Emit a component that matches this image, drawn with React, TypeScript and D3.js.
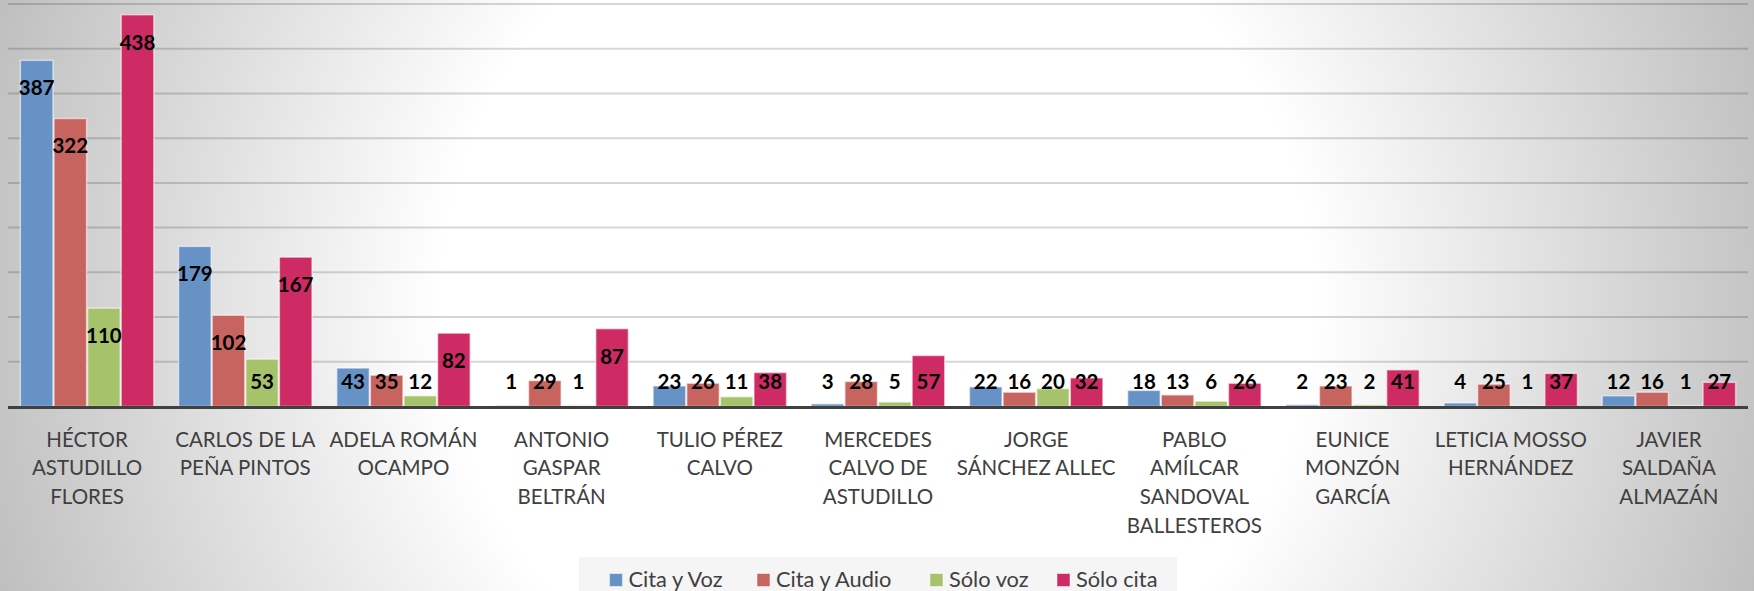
import React from "react";
import * as d3 from "d3";

const categories = [
  "HÉCTOR\nASTUDILLO\nFLORES",
  "CARLOS DE LA\nPEÑA PINTOS",
  "ADELA ROMÁN\nOCAMPO",
  "ANTONIO\nGASPAR\nBELTRÁN",
  "TULIO PÉREZ\nCALVO",
  "MERCEDES\nCALVO DE\nASTUDILLO",
  "JORGE\nSÁNCHEZ ALLEC",
  "PABLO\nAMÍLCAR\nSANDOVAL\nBALLESTEROS",
  "EUNICE\nMONZÓN\nGARCÍA",
  "LETICIA MOSSO\nHERNÁNDEZ",
  "JAVIER\nSALDAÑA\nALMAZÁN",
];

const seriesNames = ["Cita y Voz", "Cita y Audio", "Sólo voz", "Sólo cita"];
const citaYVoz = [387, 179, 43, 1, 23, 3, 22, 18, 2, 4, 12];
const citaYAudio = [322, 102, 35, 29, 26, 28, 16, 13, 23, 25, 16];
const soloVoz = [110, 53, 12, 1, 11, 5, 20, 6, 2, 1, 1];
const soloCita = [438, 167, 82, 87, 38, 57, 32, 26, 41, 37, 27];
const yTicks = [0, 50, 100, 150, 200, 250, 300, 350, 400, 450];

const seriesValues = [citaYVoz, citaYAudio, soloVoz, soloCita];
const colors = ["#6792C6", "#C8645F", "#A6C36C", "#CE2A64"];

const W = 1754;
const H = 591;
const plotLeft = 8;
const plotRight = 1748;
const plotTop = 4;
const baseY = 406.5;
const FONT = "Lato, 'Open Sans', sans-serif";

export default function App() {
  const x0 = d3
    .scaleBand<string>()
    .domain(categories)
    .range([plotLeft, plotRight])
    .paddingInner(0.15)
    .paddingOuter(0.075);
  const x1 = d3
    .scaleBand<string>()
    .domain(seriesNames)
    .range([0, x0.bandwidth()])
    .padding(0);
  const y = d3.scaleLinear().domain([0, 450]).range([baseY, plotTop]);

  const legendX = [609.5, 757, 930, 1057];

  return (
    <svg
      width={W}
      height={H}
      style={{ position: "absolute", left: 0, top: 0, display: "block" }}
      fontFamily={FONT}
    >
      <defs>
        <radialGradient
          id="bg"
          gradientUnits="userSpaceOnUse"
          cx={877}
          cy={300}
          r={925}
        >
          <stop offset="0" stopColor="#ffffff" />
          <stop offset="0.47" stopColor="#ffffff" />
          <stop offset="1" stopColor="#bfbfbf" />
        </radialGradient>
      </defs>
      <rect x={0} y={0} width={W} height={H} fill="url(#bg)" />

      {/* gridlines */}
      {yTicks
        .filter((t) => t > 0)
        .map((t) => (
          <line
            key={t}
            x1={plotLeft}
            x2={plotRight}
            y1={y(t)}
            y2={y(t)}
            stroke="#000"
            strokeOpacity={0.16}
            strokeWidth={2}
          />
        ))}

      {/* bars */}
      {categories.map((c, i) => (
        <g key={c} transform={`translate(${x0(c)},0)`}>
          {seriesNames.map((s, j) => {
            const v = seriesValues[j][i];
            const top = y(v);
            return (
              <rect
                key={s}
                x={x1(s)! + 0.5}
                y={top}
                width={x1.bandwidth() - 1}
                height={Math.max(0, baseY - top)}
                fill={colors[j]}
                stroke="#ffffff"
                strokeOpacity={0.55}
                strokeWidth={1.5}
              />
            );
          })}
        </g>
      ))}

      {/* axis baseline */}
      <line
        x1={plotLeft}
        x2={plotRight}
        y1={baseY + 1}
        y2={baseY + 1}
        stroke="#404040"
        strokeWidth={3}
      />

      {/* data labels */}
      {categories.map((c, i) =>
        seriesNames.map((s, j) => {
          const v = seriesValues[j][i];
          const top = y(v);
          const cy = Math.min(top + 27.5, baseY - 24.8);
          return (
            <text
              key={c + s}
              x={x0(c)! + x1(s)! + x1.bandwidth() / 2}
              y={cy + 7.4}
              textAnchor="middle"
              fontWeight={700}
              fontSize={20.5}
              fill="#000"
            >
              {v}
            </text>
          );
        })
      )}

      {/* category labels */}
      {categories.map((c) => (
        <text
          key={c}
          x={x0(c)! + x0.bandwidth() / 2}
          y={446.5}
          textAnchor="middle"
          fontSize={20.5}
          fill="#404040"
        >
          {c.split("\n").map((ln, k) => (
            <tspan key={k} x={x0(c)! + x0.bandwidth() / 2} dy={k === 0 ? 0 : 28.9}>
              {ln}
            </tspan>
          ))}
        </text>
      ))}

      {/* legend */}
      <rect x={579} y={557} width={598} height={34} fill="#f5f5f5" />
      {seriesNames.map((s, j) => (
        <g key={s}>
          <rect
            x={legendX[j]}
            y={573.5}
            width={13}
            height={13}
            fill={colors[j]}
            stroke="#ffffff"
            strokeOpacity={0.5}
            strokeWidth={1}
          />
          <text x={legendX[j] + 19} y={586.7} fontSize={21.8} fill="#404040">
            {s}
          </text>
        </g>
      ))}
    </svg>
  );
}
